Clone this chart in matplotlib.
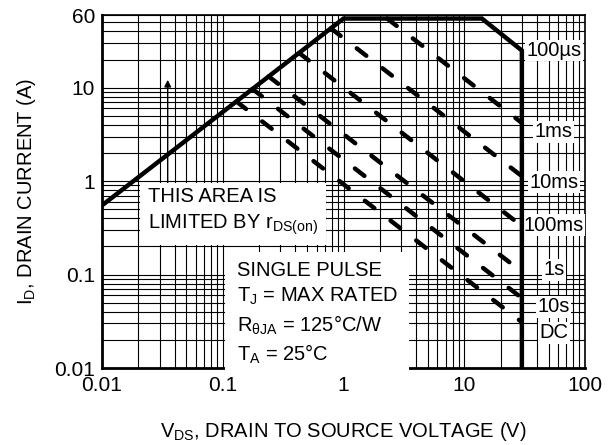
import numpy as np
import matplotlib
matplotlib.use("Agg")
import matplotlib.pyplot as plt

plt.rcParams['font.family'] = ['Liberation Sans', 'DejaVu Sans']
plt.rcParams['mathtext.fontset'] = 'custom'
plt.rcParams['mathtext.rm'] = 'Liberation Sans'
plt.rcParams['mathtext.it'] = 'Liberation Sans:italic'
plt.rcParams['mathtext.bf'] = 'Liberation Sans:bold'

# safe operating area boundary (rDS limit, current limit, power limit, BVdss)
bound_v = [0.01, 1.0, 14.0, 30.0, 30.0]
bound_i = [0.55, 55.0, 55.0, 25.0, 0.01]

# pulse width lines: start point and end point (V, A)
pulse_names = ["1ms", "10ms", "100ms", "1s", "10s", "DC"]
pulse_v0 = [2.3, 0.79, 0.43, 0.24, 0.176, 0.13]
pulse_i0 = [55.0, 43.0, 23.5, 13.2, 9.7, 7.1]
pulse_v1 = [30.0, 30.0, 30.0, 30.0, 30.0, 30.0]
pulse_i1 = [4.2, 1.13, 0.33, 0.107, 0.056, 0.031]

# labels at the right side
lbl_text = ["100\u00b5s", "1ms", "10ms", "100ms", "1s", "10s", "DC"]
lbl_i = [25.0, 3.37, 0.97, 0.336, 0.113, 0.0453, 0.0238]

xticks = [0.01, 0.1, 1, 10, 100]
xtick_lbl = ["0.01", "0.1", "1", "10", "100"]
yticks = [0.01, 0.1, 1, 10, 60]
ytick_lbl = ["0.01", "0.1", "1", "10", "60"]

fig = plt.figure(figsize=(6.11, 4.45), dpi=100)
ax = fig.add_axes([102/611, 1-368/445, (585-102)/611, (368-15)/445])
ax.set_xscale('log')
ax.set_yscale('log')
ax.set_xlim(0.01, 100)
ax.set_ylim(0.01, 60)

# grid
ax.grid(True, which='both', color='black', lw=0.8, zorder=1)
ax.set_axisbelow(True)

ax.plot(bound_v, bound_i, color='black', lw=3.2, solid_capstyle='butt',
        solid_joinstyle='miter', zorder=5)

for k in range(len(pulse_names)):
    ax.plot([pulse_v0[k], pulse_v1[k]], [pulse_i0[k], pulse_i1[k]],
            color='black', lw=3.2, linestyle=(0, (2.7, 4.6)),
            dash_capstyle='round', zorder=5)

for t, y in zip(lbl_text, lbl_i):
    ax.text(55, y, t, ha='center', va='center', fontsize=14.5, zorder=4,
            bbox=dict(facecolor='white', edgecolor='none', pad=1))

# arrow
ax.annotate("", xy=(0.035, 13), xytext=(0.035, 0.8),
            arrowprops=dict(arrowstyle='-|>', color='black', lw=1,
                            mutation_scale=10), zorder=3)

ax.text(0.024, 0.47, "THIS AREA IS\nLIMITED BY r$_{\\mathrm{DS(on)}}$",
        ha='left', va='center', fontsize=14.5, linespacing=1.4, zorder=4,
        bbox=dict(facecolor='white', edgecolor='none', pad=6))

ax.text(0.13, 0.038,
        "SINGLE PULSE\nT$_{\\mathrm{J}}$ = MAX RATED\n"
        "R$_{\\mathrm{\u03b8JA}}$ = 125\u00b0C/W\nT$_{\\mathrm{A}}$ = 25\u00b0C",
        ha='left', va='center', fontsize=14.5, linespacing=1.35, zorder=4,
        bbox=dict(facecolor='white', edgecolor='none', pad=8))

ax.set_xticks(xticks)
ax.set_xticklabels(xtick_lbl)
ax.set_yticks(yticks)
ax.set_yticklabels(ytick_lbl)
ax.tick_params(which='both', length=0, labelsize=15)
ax.tick_params(axis='x', pad=6)
ax.tick_params(axis='y', pad=5)

ax.set_xlabel("V$_{\\mathrm{DS}}$, DRAIN TO SOURCE VOLTAGE (V)", fontsize=14.5,
              labelpad=18)
ax.set_ylabel("I$_{\\mathrm{D}}$, DRAIN CURRENT (A)", fontsize=14.5, labelpad=12)

for s in ['left', 'bottom']:
    ax.spines[s].set_linewidth(2.0)
for s in ['top', 'right']:
    ax.spines[s].set_linewidth(1.2)

fig.savefig("out.png", dpi=100, facecolor='white')
